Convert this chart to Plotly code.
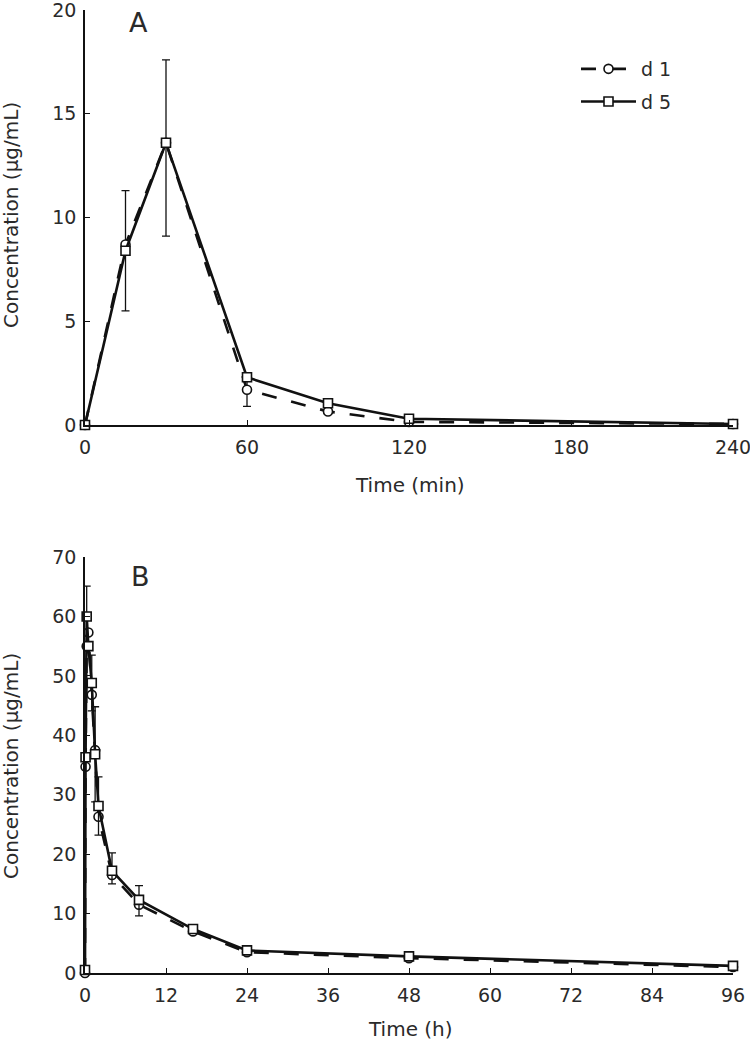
import plotly.graph_objects as go

# ---- Panel A data (time in min) ----
time_a = [0, 15, 30, 60, 90, 120, 240]
d1_a = [0.0, 8.7, 13.6, 1.7, 0.65, 0.15, 0.05]
d5_a = [0.0, 8.4, 13.6, 2.3, 1.05, 0.3, 0.05]
d1_a_err_plus = [0, 2.6, 4.0, 0.8, 0, 0, 0]
d1_a_err_minus = [0, 3.2, 4.5, 0.8, 0, 0, 0]

# ---- Panel B data (time in h) ----
time_b = [0, 0.083, 0.25, 0.5, 1, 1.5, 2, 4, 8, 16, 24, 48, 96]
d1_b = [0.0, 34.7, 55.0, 57.3, 46.8, 37.5, 26.3, 16.5, 11.5, 7.0, 3.5, 2.5, 1.0]
d5_b = [0.5, 36.3, 60.0, 55.0, 48.8, 36.8, 28.1, 17.2, 12.3, 7.4, 3.8, 2.8, 1.2]
d5_b_err_plus = [0, 0, 5.1, 0, 4.7, 8.0, 4.9, 3.0, 2.4, 0.6, 0.4, 0.3, 0.2]
d5_b_err_minus = [0, 0, 5.0, 0, 4.7, 8.0, 4.9, 2.2, 2.7, 0.6, 0.4, 0.3, 0.2]

x_ticks_a = [0, 60, 120, 180, 240]
y_ticks_a = [0, 5, 10, 15, 20]
x_ticks_b = [0, 12, 24, 36, 48, 60, 72, 84, 96]
y_ticks_b = [0, 10, 20, 30, 40, 50, 60, 70]

FONT = "DejaVu Sans"
BLACK = "#111111"
TXT = "#2a2a2a"

W, H = 750, 1043
ML, MR, MT, MB = 85, 17, 10, 70
PW = W - ML - MR
PH = H - MT - MB
BOTTOM = H - MB

def py2paper(py):
    return (BOTTOM - py) / PH

fig = go.Figure()

circle = dict(symbol="circle", size=9, color="white", line=dict(color=BLACK, width=1.6))
square = dict(symbol="square", size=9, color="white", line=dict(color=BLACK, width=1.6))

fig.add_trace(go.Scatter(
    x=time_a, y=d1_a, name="d 1", mode="lines+markers", xaxis="x", yaxis="y",
    line=dict(color=BLACK, width=2.6, dash="longdash"), marker=circle,
    error_y=dict(type="data", array=d1_a_err_plus, arrayminus=d1_a_err_minus,
                 color=BLACK, thickness=1.3, width=4),
    cliponaxis=False, legendgroup="g1"))
fig.add_trace(go.Scatter(
    x=time_a, y=d5_a, name="d 5", mode="lines+markers", xaxis="x", yaxis="y",
    line=dict(color=BLACK, width=2.6), marker=square,
    cliponaxis=False, legendgroup="g2"))

fig.add_trace(go.Scatter(
    x=time_b, y=d1_b, name="d 1", mode="lines+markers", xaxis="x2", yaxis="y2",
    line=dict(color=BLACK, width=2.6, dash="longdash"), marker=circle,
    cliponaxis=False, showlegend=False))
fig.add_trace(go.Scatter(
    x=time_b, y=d5_b, name="d 5", mode="lines+markers", xaxis="x2", yaxis="y2",
    line=dict(color=BLACK, width=2.6), marker=square,
    error_y=dict(type="data", array=d5_b_err_plus, arrayminus=d5_b_err_minus,
                 color=BLACK, thickness=1.3, width=4),
    cliponaxis=False, showlegend=False))

axis_common = dict(showline=True, linecolor=BLACK, linewidth=1.5, showgrid=False,
                   zeroline=False, ticks="inside", ticklen=5, tickwidth=1.2,
                   tickcolor=BLACK, automargin=False, ticklabeloverflow="allow",
                   tickfont=dict(family=FONT, size=19, color=TXT))

fig.update_layout(
    xaxis=dict(domain=[0, 1], anchor="y", range=[0, 240], tickvals=x_ticks_a,
               ticklabelstandoff=4, **axis_common),
    yaxis=dict(domain=[py2paper(425), 1], anchor="x", range=[0, 20], tickvals=y_ticks_a,
               ticklabelstandoff=3, **axis_common),
    xaxis2=dict(domain=[0, 1], anchor="y2", range=[0, 96], tickvals=x_ticks_b,
                ticklabelstandoff=4, **axis_common),
    yaxis2=dict(domain=[0, py2paper(557)], anchor="x2", range=[0, 70], tickvals=y_ticks_b,
                ticklabelstandoff=3, **axis_common),
)

def label(text, px, py, size=20, angle=0):
    fig.add_annotation(text=text, xref="paper", yref="paper",
                       x=(px - ML) / PW, y=py2paper(py),
                       xanchor="center", yanchor="middle", textangle=angle,
                       showarrow=False, font=dict(family=FONT, size=size, color=TXT))

label("Concentration (µg/mL)", 11, 215, angle=-90)
label("Concentration (µg/mL)", 11, 766, angle=-90)
label("Time (min)", 410, 485)
label("Time (h)", 410, 1029)
label("A", 138, 22, size=27)
label("B", 140, 576, size=27)

fig.update_layout(
    width=W, height=H,
    margin=dict(l=ML, r=MR, t=MT, b=MB),
    paper_bgcolor="white", plot_bgcolor="white",
    font=dict(family=FONT, size=19, color=TXT),
    legend=dict(x=(576 - ML) / PW, y=py2paper(50), xanchor="left", yanchor="top",
                bgcolor="rgba(0,0,0,0)", itemwidth=55, tracegroupgap=5,
                traceorder="grouped", font=dict(family=FONT, size=19, color=TXT)),
)

fig.write_html("out.html", config={"displayModeBar": False},
               post_script="document.body.style.margin='0';")
